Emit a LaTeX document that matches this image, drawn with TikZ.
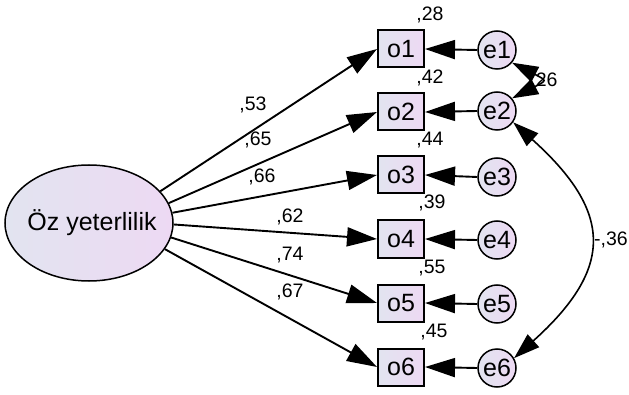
\documentclass[tikz,border=0pt]{standalone}
\usepackage{fontspec}
\setmainfont{Liberation Sans}
\usetikzlibrary{arrows.meta,shapes.geometric,calc}
\definecolor{fillA}{RGB}{226,228,240}
\definecolor{fillB}{RGB}{237,217,243}
\tikzset{
  obsbox/.style={draw=black,line width=2pt,rectangle,minimum width=46pt,minimum height=37pt,inner sep=0pt,left color=fillA,right color=fillB,font=\fontsize{25}{28}\selectfont},
  errnode/.style={draw=black,line width=1.5pt,circle,minimum size=38pt,inner sep=0pt,left color=fillA,right color=fillB,font=\fontsize{25}{28}\selectfont},
  latentnode/.style={draw=black,line width=1.5pt,ellipse,minimum width=168pt,minimum height=116pt,inner sep=0pt,left color=fillA,right color=fillB},
  coef/.style={font=\fontsize{19.5}{22}\selectfont,inner sep=0pt},
  patharrow/.style={line width=1.9pt,-{Triangle[length=30pt,width=19pt]}},
  covarrow/.style={line width=1.6pt,{Triangle[length=26pt,width=17pt]}-{Triangle[length=26pt,width=17pt]}},
}
\begin{document}
\begin{tikzpicture}[x=1pt,y=1pt]
\useasboundingbox (0,0) rectangle (629,394);
% latent
\node[latentnode] (oz) at (89,171) {};
\node[font=\fontsize{25}{28}\selectfont,inner sep=0pt] (oztext) at (92,171) {Öz yeterlilik};
% observed
\node[obsbox] (o1) at (401,345) {o1};
\node[obsbox] (o2) at (401,282) {o2};
\node[obsbox] (o3) at (401,219) {o3};
\node[obsbox] (o4) at (401,155) {o4};
\node[obsbox] (o5) at (401,91) {o5};
\node[obsbox] (o6) at (401,27) {o6};
% errors
\node[errnode] (e1) at (497,344) {e1};
\node[errnode] (e2) at (497,283) {e2};
\node[errnode] (e3) at (497,217) {e3};
\node[errnode] (e4) at (497,154) {e4};
\node[errnode] (e5) at (497,90) {e5};
\node[errnode] (e6) at (497,26) {e6};
% r-squared labels
\node[coef] (r1) at (430,379) {,28};
\node[coef] (r2) at (430,316) {,42};
\node[coef] (r3) at (430,254) {,44};
\node[coef] (r4) at (432,191) {,39};
\node[coef] (r5) at (432,126) {,55};
\node[coef] (r6) at (434,62) {,45};
% loadings labels
\node[coef] (l1) at (253,289) {,53};
\node[coef] (l2) at (258,254) {,65};
\node[coef] (l3) at (262,217) {,66};
\node[coef] (l4) at (290,177) {,62};
\node[coef] (l5) at (290,139) {,74};
\node[coef] (l6) at (290,102) {,67};
% covariance labels
\node[coef] (c12) at (544,313) {,26};
\node[coef] (c26) at (611,154) {-,36};
% paths
\draw[patharrow] (oz.24) -- (o1.west);
\draw[patharrow] (oz.14) -- (o2.west);
\draw[patharrow] (oz.7) -- (o3.west);
\draw[patharrow] (oz.-1) -- (o4.west);
\draw[patharrow] (oz.-10) -- (o5.west);
\draw[patharrow] (oz.-19) -- (o6.west);
% errors
\draw[patharrow] (e1.west) -- (o1.east);
\draw[patharrow] (e2.west) -- (o2.east);
\draw[patharrow] (e3.west) -- (o3.east);
\draw[patharrow] (e4.west) -- (o4.east);
\draw[patharrow] (e5.west) -- (o5.east);
\draw[patharrow] (e6.west) -- (o6.east);
% covariances
\draw[covarrow] (e1.-40) .. controls +(35,-18) and +(35,18) .. (e2.40);
\draw[covarrow] (e2.-35) .. controls +(100,-90) and +(100,90) .. (e6.30);
\end{tikzpicture}
\end{document}
